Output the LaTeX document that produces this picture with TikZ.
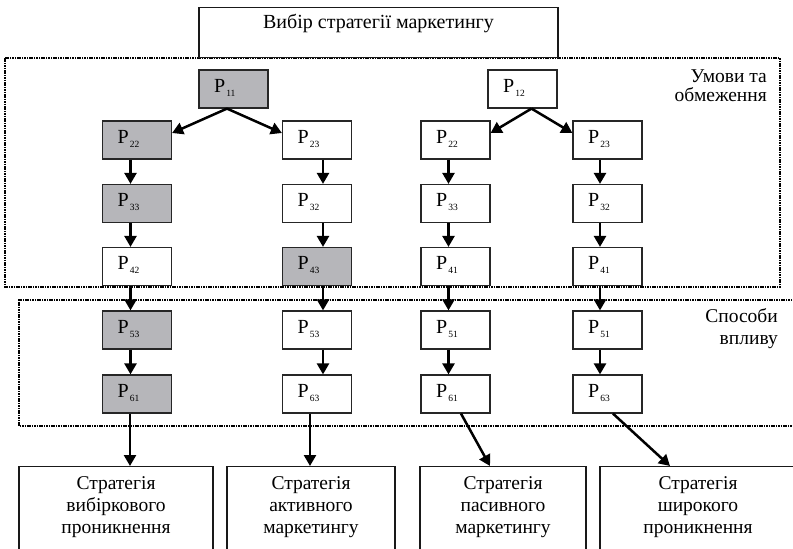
\documentclass[tikz,border=0pt]{standalone}
\usepackage{fontspec}
\setmainfont{Liberation Serif}
\usetikzlibrary{arrows.meta}
\definecolor{boxgray}{RGB}{182,182,186}
\newcommand{\Pn}[1]{P\kern1.2pt\raisebox{-4pt}{\fontsize{9.5}{9.5}\selectfont #1}}
\begin{document}
\begin{tikzpicture}[x=1pt,y=-1pt,
 pbox/.style={draw=black!85, fill=white, line width=1.2pt, inner xsep=15pt, inner ysep=0pt, text width=39pt, align=left, minimum height=38pt, text height=10pt, text depth=4pt, font=\fontsize{20}{22}\selectfont},
 gbox/.style={pbox, fill=boxgray},
 arr/.style={line width=2.5pt, -{Triangle[length=11pt,width=12pt]}},
 dotline/.style={line width=2.4pt, dash pattern=on 1.6pt off 0.8pt},
 sbox/.style={draw=black!90, fill=white, line width=1.2pt, anchor=north, inner sep=0pt, text height=23pt, text depth=90pt, font=\fontsize{19.5}{22}\selectfont},
 lab/.style={anchor=base east, inner sep=0pt, font=\fontsize{19.5}{22}\selectfont}
]
\useasboundingbox (0,0) rectangle (793,549);
\clip (0,0) rectangle (793,549);
% dotted frames
\draw[dotline] (5,58) rectangle (780,287);
\draw[dotline] (797,300) -- (19,300) -- (19,426) -- (797,426);
% top box
\node[draw=black!90, fill=white, line width=1.2pt, inner sep=0pt, minimum width=359pt, text height=21pt, text depth=29pt, anchor=north, font=\fontsize{20}{24}\selectfont] (top) at (378.5,7) {Вибір стратегії маркетингу};
% first row
\node[gbox] (p11) at (233.5,89) {\Pn{11}};
\node[pbox] (p12) at (522.5,89) {\Pn{12}};
% column 1
\node[gbox] (a2) at (137,140) {\Pn{22}};
\node[gbox] (a3) at (137,203.5) {\Pn{33}};
\node[pbox] (a4) at (137,266.5) {\Pn{42}};
\node[gbox] (a5) at (137,330) {\Pn{53}};
\node[gbox] (a6) at (137,394) {\Pn{61}};
% column 2
\node[pbox] (b2) at (317,140) {\Pn{23}};
\node[pbox] (b3) at (317,203.5) {\Pn{32}};
\node[gbox] (b4) at (317,266.5) {\Pn{43}};
\node[pbox] (b5) at (317,330) {\Pn{53}};
\node[pbox] (b6) at (317,394) {\Pn{63}};
% column 3
\node[pbox] (c2) at (455.5,140) {\Pn{22}};
\node[pbox] (c3) at (455.5,203.5) {\Pn{33}};
\node[pbox] (c4) at (455.5,266.5) {\Pn{41}};
\node[pbox] (c5) at (455.5,330) {\Pn{51}};
\node[pbox] (c6) at (455.5,394) {\Pn{61}};
% column 4
\node[pbox] (d2) at (607.5,140) {\Pn{23}};
\node[pbox] (d3) at (607.5,203.5) {\Pn{32}};
\node[pbox] (d4) at (607.5,266.5) {\Pn{41}};
\node[pbox] (d5) at (607.5,330) {\Pn{51}};
\node[pbox] (d6) at (607.5,394) {\Pn{63}};
% bottom boxes
\node[sbox, minimum width=194pt] (s1) at (116,466) {\parbox[t]{190pt}{\centering Стратегія\\вибіркового\\проникнення}};
\node[sbox, minimum width=168pt] (s2) at (311,466) {\parbox[t]{164pt}{\centering Стратегія\\активного\\маркетингу}};
\node[sbox, minimum width=166pt] (s3) at (503,466) {\parbox[t]{162pt}{\centering Стратегія\\пасивного\\маркетингу}};
\node[sbox, minimum width=196pt] (s4) at (698,466) {\parbox[t]{192pt}{\centering Стратегія\\широкого\\проникнення}};
% labels
\node[lab] (u1) at (767,82) {Умови та};
\node[lab] (u2) at (767,101.5) {обмеження};
\node[lab] (v1) at (778,322) {Способи};
\node[lab] (v2) at (778,344) {впливу};
% arrows
\draw[arr] ([xshift=-6.5pt]p11.south) -- ([yshift=7pt]a2.east);
\draw[arr] ([xshift=-6.5pt]p11.south) -- ([yshift=7pt]b2.west);
\draw[arr] ([xshift=9pt]p12.south) -- ([yshift=7pt]c2.east);
\draw[arr] ([xshift=9pt]p12.south) -- ([yshift=7pt]d2.west);
\foreach \i/\j in {2/3,3/4,4/5,5/6}{
  \draw[arr] ([xshift=-6.5pt]a\i.south) -- ([xshift=-6.5pt]a\j.north);
  \draw[arr] ([xshift=6pt]b\i.south) -- ([xshift=6pt]b\j.north);
  \draw[arr] ([xshift=-7pt]c\i.south) -- ([xshift=-7pt]c\j.north);
  \draw[arr] ([xshift=-7.5pt]d\i.south) -- ([xshift=-7.5pt]d\j.north);
}
\draw[arr] ([xshift=-7pt]a6.south) -- ([xshift=14pt]s1.north);
\draw[arr] ([xshift=-7pt]b6.south) -- ([xshift=-1pt]s2.north);
\draw[arr] ([xshift=5.5pt]c6.south) -- ([xshift=-13pt]s3.north);
\draw[arr] ([xshift=5.5pt]d6.south) -- ([xshift=-28pt]s4.north);
\end{tikzpicture}
\end{document}
